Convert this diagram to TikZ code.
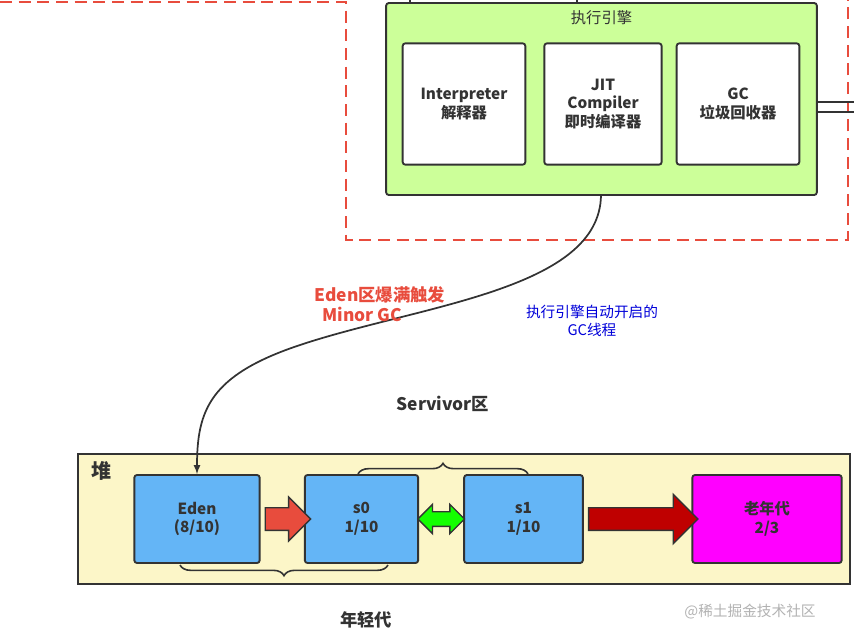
\documentclass[tikz,border=0pt]{standalone}
\usepackage{fontspec}
\setmainfont{Noto Sans CJK SC}
\usepackage{xcolor}
\usetikzlibrary{shapes,arrows,positioning,calc,decorations.pathreplacing}
\definecolor{engine}{HTML}{CCFF99}
\definecolor{heapbg}{HTML}{FCF6C8}
\definecolor{gen}{HTML}{64B5F6}
\definecolor{old}{HTML}{FF00FF}
\definecolor{line}{HTML}{333333}
\definecolor{txtred}{HTML}{E84C3D}
\begin{document}
\begin{tikzpicture}[x=0.75pt,y=-0.75pt,
  box/.style={draw=line,line width=1.4pt,rounded corners=2pt,align=center,font=\bfseries\fontsize{11.5}{14}\selectfont,text=line,inner sep=0pt},
  part/.style={box,fill=white,minimum width=92pt,minimum height=91pt},
  area/.style={box,fill=gen,minimum height=66pt},
  fat/.style={draw=line,line width=1pt,shape=single arrow,inner xsep=0pt,inner ysep=#1},
  brace/.style={draw=line,line width=1.2pt,decorate,decoration={brace,amplitude=8pt}}]
\useasboundingbox (0,0) rectangle (854,643);
% outer dashed region
\draw[txtred,line width=1.5pt,dash pattern=on 9pt off 5pt] (0,2) -- (346,2) -- (346,240) -- (848,240) -- (848,0);
% execution engine
\draw[line,line width=1.4pt] (410,0) -- (410,4) (577,0) -- (577,4);
\node[box,fill=engine,minimum width=323pt,minimum height=144pt] (engine) at (601.5,99) {};
\node[font=\fontsize{11.5}{14}\selectfont,text=line] (title) at (601.5,18) {执行引擎};
\node[part] (interp) at (464,104) {Interpreter\\解释器};
\node[part,minimum width=88pt] (jit) at (603,104) {JIT\\Compiler\\即时编译器};
\node[part] (gc) at (738,104) {GC\\垃圾回收器};
\draw[line,line width=1.3pt] (engine.east |- 0,102) -- (854,102) (engine.east |- 0,112) -- (854,112);
% heap
\node[box,fill=heapbg,minimum width=579pt,minimum height=97pt,rounded corners=0pt] (heap) at (464,519) {};
\node[font=\bfseries\fontsize{15}{17}\selectfont,text=line] (heapname) at (101,471) {堆};
\node[area,minimum width=94pt] (eden) at (197,519) {Eden\\(8/10)};
\node[area,minimum width=85pt] (s0) at (361.5,519) {s0\\1/10};
\node[area,minimum width=89pt] (s1) at (523.5,519) {s1\\1/10};
\node[box,fill=old,minimum width=112pt,minimum height=66pt] (old) at (767,519) {老年代\\2/3};
\node[fat=8pt,fill=txtred,single arrow head extend=8pt,minimum height=34pt] (a1) at ($(eden.east)!0.5!(s0.west)$) {};
\node[draw=line,line width=1pt,shape=double arrow,inner xsep=0pt,inner ysep=5pt,double arrow head extend=5.5pt,minimum height=35pt,fill=green!90!lime] (a2) at ($(s0.east)!0.5!(s1.west)$) {};
\node[fat=8pt,fill=red!75!black,single arrow head extend=10pt,minimum height=82pt] (a3) at ($(s1.east)!0.5!(old.west)$) {};
% braces
\draw[brace] (358,474) -- (528,474);
\draw[brace] (388,565) -- (180,565);
\node[font=\bfseries\fontsize{13}{15}\selectfont,text=line] (surv) at (443,404) {Servivor区};
\node[font=\bfseries\fontsize{13}{15}\selectfont,text=line] (young) at (366,620) {年轻代};
% minor gc trigger
\coordinate (gcout) at (601,195);
\draw[line,line width=1.3pt,-latex] (gcout) .. controls (600,290) and (420,305) .. (300,345) .. controls (210,375) and (197,410) .. (eden.north);
\node[font=\bfseries\fontsize{13}{15}\selectfont,text=txtred,align=left] (trig) at (380,304) {Eden区爆满触发\\\ \ Minor GC};
\node[font=\fontsize{11}{13}\selectfont,text=blue!85!black,align=center] (thread) at (592,321) {执行引擎自动开启的\\GC线程};
\node[text=gray!60,font=\fontsize{11}{13}\selectfont] (mark) at (750,612) {@稀土掘金技术社区};
\end{tikzpicture}
\end{document}
